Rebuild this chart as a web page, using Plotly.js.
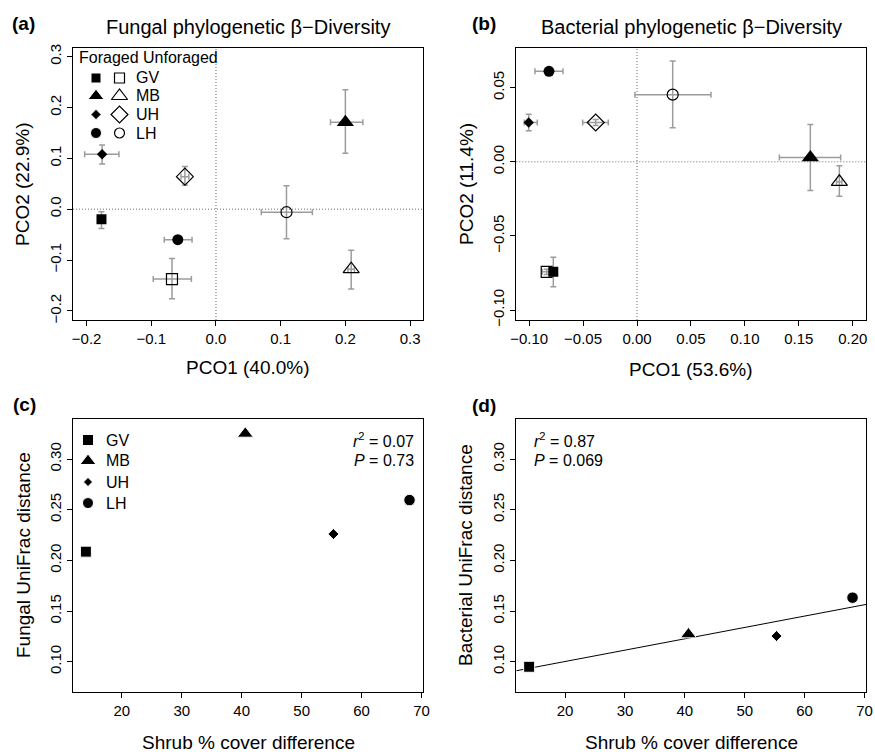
<!DOCTYPE html>
<html><head><meta charset="utf-8">
<script src="https://cdn.plot.ly/plotly-3.0.1.min.js"></script>
<style>html,body{margin:0;padding:0;background:#fff}</style>
</head><body><div id="chart" style="width:875px;height:752px"></div>
<script>
// ---------- DATA ----------
const sites = ['GV', 'MB', 'UH', 'LH'];

// (a) Fungal phylogenetic beta-diversity (PCoA means with error ranges)
const fungForX   = [-0.177, 0.200, -0.176, -0.059];
const fungForY   = [-0.020, 0.171, 0.108, -0.060];
const fungForXlo = [-0.182, 0.177, -0.203, -0.080];
const fungForXhi = [-0.172, 0.227, -0.150, -0.037];
const fungForYlo = [-0.038, 0.110, 0.089, -0.064];
const fungForYhi = [-0.005, 0.235, 0.126, -0.056];
const fungUnfX   = [-0.068, 0.209, -0.048, 0.109];
const fungUnfY   = [-0.1375, -0.118, 0.064, -0.006];
const fungUnfXlo = [-0.097, 0.204, -0.054, 0.070];
const fungUnfXhi = [-0.038, 0.214, -0.042, 0.149];
const fungUnfYlo = [-0.176, -0.157, 0.047, -0.058];
const fungUnfYhi = [-0.097, -0.081, 0.084, 0.046];

// (b) Bacterial phylogenetic beta-diversity
const bactForX   = [-0.0776, 0.1607, -0.1004, -0.0816];
const bactForY   = [-0.0742, 0.0029, 0.0265, 0.0610];
const bactForXlo = [-0.0800, 0.1320, -0.1045, -0.0946];
const bactForXhi = [-0.0752, 0.1888, -0.0924, -0.0686];
const bactForYlo = [-0.0843, -0.0193, 0.0210, 0.0590];
const bactForYhi = [-0.0643, 0.0251, 0.0320, 0.0630];
const bactUnfX   = [-0.0837, 0.1876, -0.0383, 0.0331];
const bactUnfY   = [-0.0742, -0.0135, 0.0265, 0.0453];
const bactUnfXlo = [-0.0878, 0.1850, -0.0504, -0.0019];
const bactUnfXhi = [-0.0797, 0.1900, -0.0266, 0.0686];
const bactUnfYlo = [-0.0760, -0.0233, 0.0245, 0.0229];
const bactUnfYhi = [-0.0724, -0.0027, 0.0285, 0.0680];

// (c),(d) UniFrac distance vs shrub cover difference
const shrubDiff   = [14.0, 40.6, 55.3, 68.0];
const fungUniFrac = [0.2086, 0.325, 0.226, 0.2595];
const bactUniFrac = [0.095, 0.127, 0.1253, 0.1632];

const statsFung = ['0.07', '0.73'];
const statsBact = ['0.87', '0.069'];

// ---------- STYLE / LAYOUT ----------
const FONT = 'Liberation Sans, Arial, Helvetica, sans-serif';
const W = 875, H = 752;
const fx = p => p / W, fy = p => 1 - p / H;
const filledSym = ['square', 'triangle-up', 'diamond', 'circle'];
const openSym = ['square-open', 'triangle-up-open', 'diamond-open', 'circle-open'];
const filledSize = [10, 15, 8, 11];
const openSize = [11, 14, 13, 11];
const ERR = '#9c9c9c';

function errBar(c, lo, hi) {
  return {type: 'data', symmetric: false,
    array: hi.map((h, i) => h - c[i]), arrayminus: c.map((v, i) => v - lo[i]),
    color: ERR, thickness: 1.5, width: 3};
}
function pcoTrace(x, y, xlo, xhi, ylo, yhi, open, xa, ya) {
  return {type: 'scatter', mode: 'markers', x: x, y: y, xaxis: xa, yaxis: ya,
    text: sites, hoverinfo: 'text+x+y', showlegend: false,
    error_x: errBar(x, xlo, xhi), error_y: errBar(y, ylo, yhi),
    marker: {symbol: open ? openSym : filledSym, size: open ? openSize : filledSize, opacity: 1,
      color: '#000', line: {color: '#000', width: open ? 1.2 : 0}}};
}

const data = [];
data.push(pcoTrace(fungForX, fungForY, fungForXlo, fungForXhi, fungForYlo, fungForYhi, false, 'x', 'y'));
data.push(pcoTrace(fungUnfX, fungUnfY, fungUnfXlo, fungUnfXhi, fungUnfYlo, fungUnfYhi, true, 'x', 'y'));
data.push(pcoTrace(bactUnfX, bactUnfY, bactUnfXlo, bactUnfXhi, bactUnfYlo, bactUnfYhi, true, 'x2', 'y2'));
data.push(pcoTrace(bactForX, bactForY, bactForXlo, bactForXhi, bactForYlo, bactForYhi, false, 'x2', 'y2'));

// regression line in (d) from least squares on the data
const XR34 = [11.85, 70.25];
(function () {
  const n = shrubDiff.length;
  const mx = shrubDiff.reduce((a, b) => a + b, 0) / n;
  const my = bactUniFrac.reduce((a, b) => a + b, 0) / n;
  let sxy = 0, sxx = 0;
  for (let i = 0; i < n; i++) { sxy += (shrubDiff[i] - mx) * (bactUniFrac[i] - my); sxx += (shrubDiff[i] - mx) ** 2; }
  const b = sxy / sxx, a = my - b * mx;
  data.push({type: 'scatter', mode: 'lines', x: XR34, y: XR34.map(v => a + b * v),
    xaxis: 'x4', yaxis: 'y4', line: {color: '#000', width: 1}, hoverinfo: 'skip', showlegend: false});
})();

const sz34 = [11, 14, 8.5, 11.5];
data.push({type: 'scatter', mode: 'markers', x: shrubDiff, y: fungUniFrac, xaxis: 'x3', yaxis: 'y3',
  text: sites, hoverinfo: 'text+x+y', showlegend: false,
  marker: {symbol: filledSym, size: sz34, color: '#000', opacity: 1}});
data.push({type: 'scatter', mode: 'markers', x: shrubDiff, y: bactUniFrac, xaxis: 'x4', yaxis: 'y4',
  text: sites, hoverinfo: 'text+x+y', showlegend: false,
  marker: {symbol: filledSym, size: sz34, color: '#000', opacity: 1}});

// legend keys (pixel-coordinate overlay axes)
const legA_rows = [78, 96, 114.5, 133];
data.push({type: 'scatter', mode: 'markers', x: legA_rows.map(() => 96), y: legA_rows,
  xaxis: 'x5', yaxis: 'y5', hoverinfo: 'skip', showlegend: false,
  marker: {symbol: filledSym, size: [10, 14, 8, 11], color: '#000', opacity: 1}});
data.push({type: 'scatter', mode: 'markers', x: legA_rows.map(() => 119.5), y: legA_rows,
  xaxis: 'x5', yaxis: 'y5', hoverinfo: 'skip', showlegend: false,
  marker: {symbol: openSym, size: [10, 14, 13, 10], color: '#000', opacity: 1, line: {color: '#000', width: 1.2}}});
const legC_rows = [440, 461, 482, 503];
data.push({type: 'scatter', mode: 'markers', x: legC_rows.map(() => 88.3), y: legC_rows,
  xaxis: 'x6', yaxis: 'y6', hoverinfo: 'skip', showlegend: false,
  marker: {symbol: filledSym, size: [11, 14, 7, 11], color: '#000', opacity: 1}});

function ax(extra) {
  return Object.assign({
    showline: true, mirror: true, linecolor: '#000', linewidth: 1,
    ticks: 'outside', ticklen: 5, tickwidth: 1, tickcolor: '#000',
    showgrid: false, zeroline: false, fixedrange: true,
    tickfont: {family: FONT, size: 15, color: '#000'},
    tickmode: 'linear', tick0: 0
  }, extra);
}
const domAx = [fx(73), fx(423)], domBx = [fx(516.3), fx(866)];
const domTopY = [fy(320), fy(47.5)], domBotY = [fy(691.7), fy(419)];
const hidden = {visible: false, fixedrange: true, showgrid: false, zeroline: false};
const DOT = {color: '#666', width: 1, dash: '1px,2px'};

const layout = {
  width: W, height: H, margin: {l: 0, r: 0, t: 0, b: 0},
  paper_bgcolor: '#fff', plot_bgcolor: 'rgba(0,0,0,0)',
  font: {family: FONT, color: '#000'}, showlegend: false,
  xaxis: ax({domain: domAx, anchor: 'y', range: [-0.221, 0.32], dtick: 0.1, tickformat: '.1f'}),
  yaxis: ax({domain: domTopY, anchor: 'x', range: [-0.218, 0.318], dtick: 0.1, tickformat: '.1f', tickangle: -90}),
  xaxis2: ax({domain: domBx, anchor: 'y2', range: [-0.1119, 0.2123], dtick: 0.05, tickformat: '.2f'}),
  yaxis2: ax({domain: domTopY, anchor: 'x2', range: [-0.1067, 0.0771], dtick: 0.05, tickformat: '.2f', tickangle: -90}),
  xaxis3: ax({domain: domAx, anchor: 'y3', range: XR34, dtick: 10}),
  yaxis3: ax({domain: domBotY, anchor: 'x3', range: [0.0704, 0.3395], dtick: 0.05, tickformat: '.2f', tickangle: -90}),
  xaxis4: ax({domain: domBx, anchor: 'y4', range: XR34, dtick: 10}),
  yaxis4: ax({domain: domBotY, anchor: 'x4', range: [0.0704, 0.3395], dtick: 0.05, tickformat: '.2f', tickangle: -90}),
  xaxis5: Object.assign({domain: domAx, anchor: 'y5', range: [73, 423]}, hidden),
  yaxis5: Object.assign({domain: domTopY, anchor: 'x5', range: [320, 47.5]}, hidden),
  xaxis6: Object.assign({domain: domAx, anchor: 'y6', range: [73.3, 423.3]}, hidden),
  yaxis6: Object.assign({domain: domBotY, anchor: 'x6', range: [691.7, 419]}, hidden),
  shapes: [
    {type: 'line', xref: 'x', yref: 'y domain', x0: 0, x1: 0, y0: 0, y1: 1, layer: 'below', line: DOT},
    {type: 'line', xref: 'x domain', yref: 'y', x0: 0, x1: 1, y0: 0, y1: 0, layer: 'below', line: DOT},
    {type: 'line', xref: 'x2', yref: 'y2 domain', x0: 0, x1: 0, y0: 0, y1: 1, layer: 'below', line: DOT},
    {type: 'line', xref: 'x2 domain', yref: 'y2', x0: 0, x1: 1, y0: 0, y1: 0, layer: 'below', line: DOT}
  ],
  annotations: []
};

function ann(text, px, py, o) {
  o = o || {};
  layout.annotations.push(Object.assign({
    text: text, xref: 'paper', yref: 'paper', x: fx(px), y: fy(py),
    xanchor: 'center', yanchor: 'middle', showarrow: false,
    font: {family: FONT, size: o.size || 19, color: '#000'}
  }, o.extra || {}));
}
// panel labels
ann('<b>(a)</b>', 23, 24); ann('<b>(b)</b>', 484, 24);
ann('<b>(c)</b>', 24, 404); ann('<b>(d)</b>', 484, 405);
// panel titles
ann('Fungal phylogenetic β\u2212Diversity', 248, 27, {size: 20});
ann('Bacterial phylogenetic β\u2212Diversity', 691, 27, {size: 20});
// axis titles
ann('PCO1 (40.0%)', 248, 368); ann('PCO1 (53.6%)', 691, 369);
ann('PCO2 (22.9%)', 23, 184, {extra: {textangle: -90}});
ann('PCO2 (11.4%)', 467, 184, {extra: {textangle: -90}});
ann('Shrub % cover difference', 248, 742); ann('Shrub % cover difference', 691, 742);
ann('Fungal UniFrac distance', 23, 555, {extra: {textangle: -90}});
ann('Bacterial UniFrac distance', 465, 555, {extra: {textangle: -90}});
// legend (a)
ann('Foraged Unforaged', 77, 57, {size: 16, extra: {xanchor: 'left'}});
legA_rows.forEach((r, i) => ann(sites[i], 134, r, {size: 16, extra: {xanchor: 'left'}}));
// legend (c)
legC_rows.forEach((r, i) => ann(sites[i], 103.5, r, {size: 16, extra: {xanchor: 'left'}}));
// stats
ann('<i>r</i><sup>2</sup> = ' + statsFung[0], 416, 440, {size: 16, extra: {xanchor: 'right'}});
ann('<i>P</i> = ' + statsFung[1], 416, 461, {size: 16, extra: {xanchor: 'right'}});
ann('<i>r</i><sup>2</sup> = ' + statsBact[0], 532, 440, {size: 16, extra: {xanchor: 'left'}});
ann('<i>P</i> = ' + statsBact[1], 532, 461, {size: 16, extra: {xanchor: 'left'}});

Plotly.newPlot('chart', data, layout, {displayModeBar: false, staticPlot: true});
</script>
</body></html>
